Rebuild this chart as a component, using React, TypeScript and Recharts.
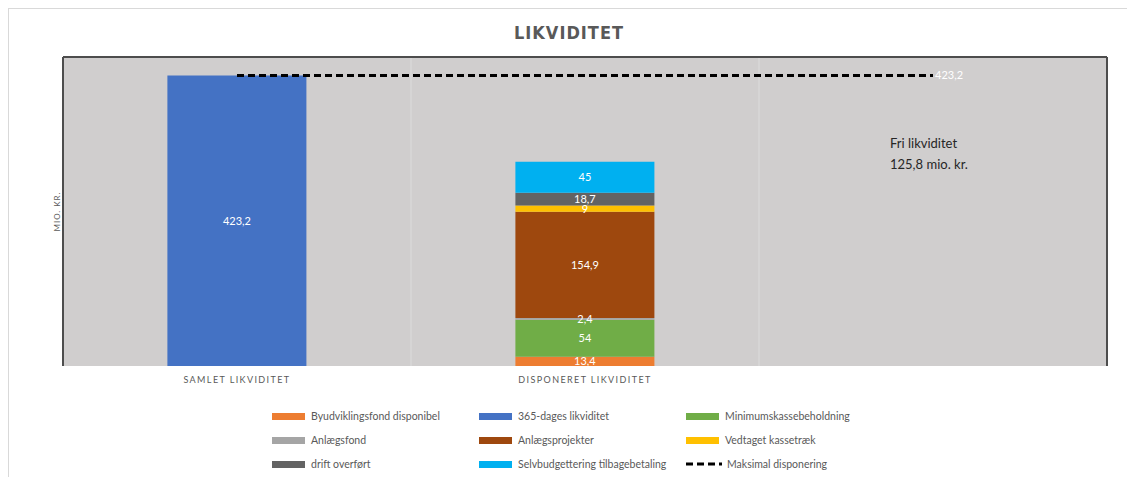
import React from "react";
import {
  ComposedChart,
  Bar,
  Line,
  XAxis,
  YAxis,
  CartesianGrid,
  ReferenceLine,
  LabelList,
  Label,
  Legend,
} from "recharts";

const categories = ["SAMLET LIKVIDITET", "DISPONERET LIKVIDITET", " "];
const byudvikling = [null, 13.4, null];
const likviditet365 = [423.2, null, null];
const minimums = [null, 54, null];
const anlaegsfond = [null, 2.4, null];
const anlaegsprojekter = [null, 154.9, null];
const vedtaget = [null, 9, null];
const drift = [null, 18.7, null];
const selvbudget = [null, 45, null];
const maksimal = [423.2, 423.2, 423.2];
const friLikviditet = 125.8;

const barSeries = [
  { key: "byudvikling", name: "Byudviklingsfond disponibel", color: "#ED7D31", values: byudvikling },
  { key: "likv365", name: "365-dages likviditet", color: "#4472C4", values: likviditet365 },
  { key: "minimums", name: "Minimumskassebeholdning", color: "#70AD47", values: minimums },
  { key: "anlaegsfond", name: "Anlægsfond", color: "#A5A5A5", values: anlaegsfond },
  { key: "anlaegsprojekter", name: "Anlægsprojekter", color: "#9E480E", values: anlaegsprojekter },
  { key: "vedtaget", name: "Vedtaget kassetræk", color: "#FFC000", values: vedtaget },
  { key: "drift", name: "drift overført", color: "#636363", values: drift },
  { key: "selvbudget", name: "Selvbudgettering tilbagebetaling", color: "#00B0F0", values: selvbudget },
];
const lineSeries = { key: "maks", name: "Maksimal disponering", color: "#000000", values: maksimal };

const data = categories.map((cat, i) => {
  const row: any = { cat };
  barSeries.forEach((s) => {
    row[s.key] = s.values[i];
  });
  row[lineSeries.key] = lineSeries.values[i];
  return row;
});

const fmt = (v: any) => (v === null || v === undefined ? "" : String(v).replace(".", ","));

const FONT = "Lato, 'Liberation Sans', sans-serif";

const XTick = (props: any) => {
  const { x, y, payload } = props;
  return (
    <text x={x} y={y} dy={17} textAnchor="middle" fontSize={9} letterSpacing={1.4} fill="#595959" fontFamily={FONT}>
      {payload.value}
    </text>
  );
};

const LineEndLabel = (props: any) => {
  const { x, y, index, value } = props;
  if (index !== maksimal.length - 1) return null;
  return (
    <text x={x + 2} y={y} dy={4} fill="#ffffff" fontSize={11} fontFamily={FONT}>
      {fmt(value)}
    </text>
  );
};

const legendItems = [
  ...barSeries.map((s) => ({ name: s.name, color: s.color, dashed: false })),
  { name: lineSeries.name, color: lineSeries.color, dashed: true },
];

const LegendContent = () => (
  <div
    style={{
      paddingTop: 18,
      paddingLeft: 263,
      display: "grid",
      gridTemplateColumns: "207px 207px 207px",
      fontFamily: FONT,
      fontSize: 10.5,
      color: "#595959",
    }}
  >
    {legendItems.map((it) => (
      <div key={it.name} style={{ height: 24, display: "flex", alignItems: "center", whiteSpace: "nowrap" }}>
        {it.dashed ? (
          <svg width={36} height={8} style={{ marginRight: 5 }}>
            <line x1={0} y1={4} x2={36} y2={4} stroke="#000" strokeWidth={3} strokeDasharray="7 4" />
          </svg>
        ) : (
          <span style={{ display: "inline-block", width: 33, height: 7, background: it.color, marginRight: 6 }} />
        )}
        <span>{it.name}</span>
      </div>
    ))}
  </div>
);

export default function App() {
  return (
    <div
      style={{
        position: "relative",
        width: 1120,
        height: 468,
        border: "1px solid #d9d9d9",
        borderBottom: "none",
        background: "#ffffff",
        fontFamily: FONT,
      }}
    >
      <div
        style={{
          position: "absolute",
          top: 13,
          left: 0,
          width: "100%",
          textAlign: "center",
          fontFamily: "'Liberation Sans Narrow', 'DejaVu Sans Condensed', sans-serif",
          fontWeight: 700,
          fontSize: 18,
          lineHeight: "22px",
          letterSpacing: 1,
          color: "#595959",
          zIndex: 2,
        }}
      >
        LIKVIDITET
      </div>
      <div
        style={{
          position: "absolute",
          left: 881,
          top: 124,
          fontSize: 13,
          lineHeight: "21px",
          color: "#262626",
          zIndex: 2,
        }}
      >
        <div>Fri likviditet</div>
        <div>{fmt(friLikviditet)} mio. kr.</div>
      </div>
      <ComposedChart
        width={1120}
        height={468}
        data={data}
        margin={{ top: 47, right: 21, left: 42, bottom: 11 }}
        barCategoryGap="30%"
      >
        <CartesianGrid fill="#d0cece" horizontal={false} vertical={false} stroke="none" />
        <XAxis
          dataKey="cat"
          axisLine={false}
          tickLine={false}
          tickSize={0}
          tickMargin={0}
          height={20}
          tick={<XTick />}
          interval={0}
        />
        <XAxis
          xAxisId="top"
          dataKey="cat"
          orientation="top"
          height={1}
          tick={false}
          tickLine={false}
          axisLine={{ stroke: "#4d4d4d", strokeWidth: 2 }}
        />
        <YAxis domain={[0, 450]} width={12} tick={false} tickLine={false} axisLine={{ stroke: "#4d4d4d", strokeWidth: 2 }}>
          <Label value="MIO. KR." angle={-90} position="center" fontSize={8} fill="#595959" letterSpacing={1} fontFamily={FONT} />
        </YAxis>
        <YAxis
          yAxisId="r"
          orientation="right"
          domain={[0, 450]}
          width={1}
          tick={false}
          tickLine={false}
          axisLine={{ stroke: "#4d4d4d", strokeWidth: 2 }}
        />
        <ReferenceLine x={categories[1]} position="start" stroke="#dcdcdc" strokeWidth={1} />
        <ReferenceLine x={categories[2]} position="start" stroke="#dcdcdc" strokeWidth={1} />
        {barSeries.map((s) => (
          <Bar key={s.key} dataKey={s.key} name={s.name} stackId="a" fill={s.color} isAnimationActive={false}>
            <LabelList dataKey={s.key} position="center" fill="#ffffff" fontSize={11} fontFamily={FONT} formatter={fmt} />
          </Bar>
        ))}
        <Line
          dataKey={lineSeries.key}
          name={lineSeries.name}
          stroke="#000000"
          strokeWidth={3}
          strokeDasharray="7 4"
          dot={false}
          activeDot={false}
          isAnimationActive={false}
        >
          <LabelList dataKey={lineSeries.key} content={<LineEndLabel />} />
        </Line>
        <Legend verticalAlign="bottom" content={<LegendContent />} wrapperStyle={{ left: 0, width: 1120, height: 80 }} />
      </ComposedChart>
    </div>
  );
}
